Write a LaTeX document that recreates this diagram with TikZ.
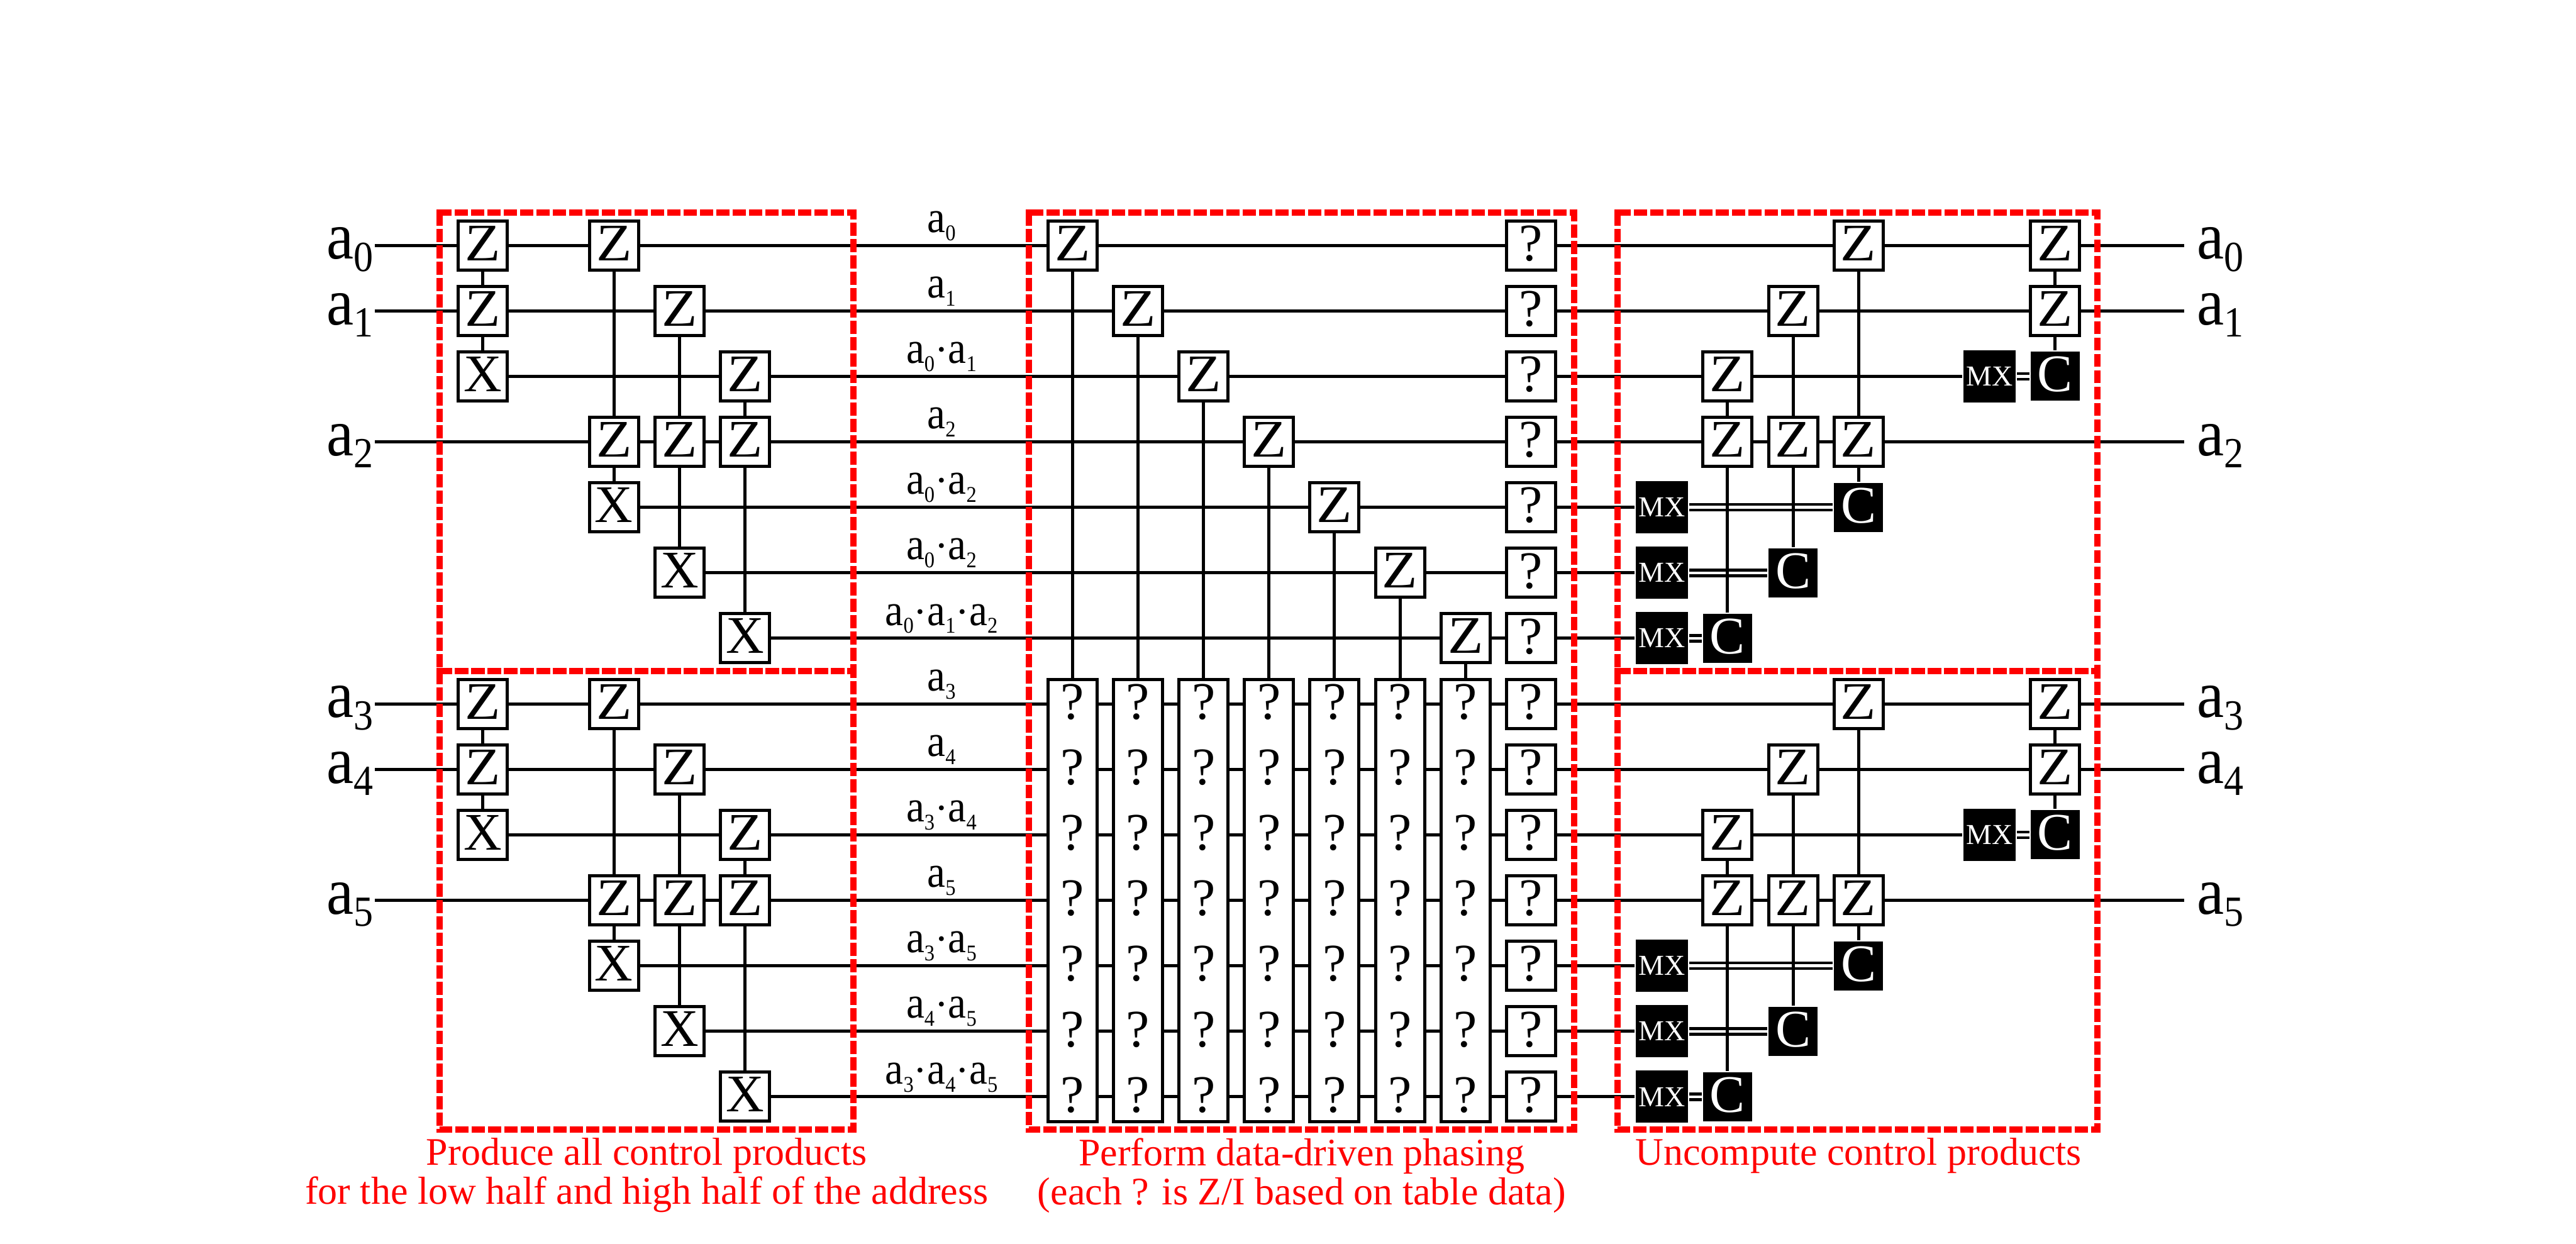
\documentclass[tikz,border=0pt]{standalone}
\usepackage{fontspec}
\setmainfont{Liberation Serif}
\usetikzlibrary{backgrounds}
\newcommand{\addr}[2][0.5]{\scalebox{1}[1.1]{a\raisebox{-0.18em}{\scalebox{#1}{#2}}}}
\newcommand{\dotp}{\textperiodcentered}
\newcommand{\zee}{\scalebox{1.1}[1]{Z}}
\begin{document}
\begin{tikzpicture}[x=10.415pt,y=-10.415pt]
	\tikzstyle{gate}  = [rectangle,draw,fill=white,line width=0.5pt,inner sep=0pt,minimum size=7.8pt,text depth=0.7pt,font=\fontsize{8.4}{8.4}\selectfont]
	\tikzstyle{tall}  = [rectangle,draw,fill=white,line width=0.5pt,inner sep=0pt,minimum width=7.8pt,minimum height=70.3pt]
	\tikzstyle{qmark} = [inner sep=0pt,text depth=0.7pt,font=\fontsize{8.4}{8.4}\selectfont]
	\tikzstyle{meas}  = [rectangle,fill=black,text=white,inner sep=0pt,minimum size=8.3pt,font=\fontsize{4.6}{4.6}\selectfont]
	\tikzstyle{ctrl}  = [rectangle,fill=black,text=white,inner sep=0pt,minimum size=7.8pt,text depth=0.65pt,font=\fontsize{8.4}{8.4}\selectfont]
	\tikzstyle{wire}  = [line width=0.5pt]
	\tikzstyle{cwire} = [line width=0.45pt,double=white,double distance=0.45pt]
	\tikzstyle{biglbl}= [inner sep=0pt,font=\fontsize{9.7}{9.7}\selectfont]
	\tikzstyle{lbl}   = [inner sep=0pt,anchor=base,font=\fontsize{6.5}{6.5}\selectfont]
	\tikzstyle{redbox}= [draw=red,line width=1pt,dash pattern=on 2.08pt off 0.52pt]
	\tikzstyle{note}  = [inner sep=0pt,anchor=north,align=center,text=red,font=\fontsize{6.2}{6.2}\selectfont]

	\useasboundingbox (-7.374,-3.745) rectangle (31.954,15.247);

	% low half, then high half
	\foreach \blk/\ofs/\fa/\fb/\fc/\fd in {u/0/0/1/2/0,v/7/3/4/5/4}{
	\begin{scope}[shift={(0,\ofs)}]
		\foreach \w/\n in {0/\fa,1/\fb,3/\fc}{
			\coordinate (\blk in\w) at (-1.65,\w);
			\coordinate (\blk out\w) at (25.97,\w);
			\node[biglbl,anchor=base east] (\blk la\w) at (-1.66,\w+0.21) {\addr[0.64]{\n}};
			\node[biglbl,anchor=base west] (\blk lb\w) at (26.15,\w+0.21) {\addr[0.64]{\n}};
		}

		\foreach \c/\w in {0/0,0/1,2/0,2/3,3/1,3/3,4/2,4/3}{
			\node[gate] (\blk\c-\w) at (\c,\w) {\zee};
		}
		\foreach \c/\w in {0/2,2/4,3/5,4/6}{
			\node[gate] (\blk\c-\w) at (\c,\w) {X};
		}

		\node[lbl] (\blk w0) at (7,-0.2) {\addr{\fa}};
		\node[lbl] (\blk w1) at (7,0.8) {\addr{\fb}};
		\node[lbl] (\blk w2) at (7,1.8) {\addr{\fa}\dotp\addr{\fb}};
		\node[lbl] (\blk w3) at (7,2.8) {\addr{\fc}};
		\node[lbl] (\blk w4) at (7,3.8) {\addr{\fa}\dotp\addr{\fc}};
		\node[lbl] (\blk w5) at (7,4.8) {\addr{\fd}\dotp\addr{\fc}};
		\node[lbl] (\blk w6) at (7,5.8) {\addr{\fa}\dotp\addr{\fb}\dotp\addr{\fc}};

		\foreach \c/\w in {21/0,24/0,20/1,24/1,19/2,19/3,20/3,21/3}{
			\node[gate] (\blk\c-\w) at (\c,\w) {\zee};
		}
		\foreach \c/\w in {23/2,18/4,18/5,18/6}{
			\node[meas] (\blk\c-\w) at (\c,\w) {MX};
		}
		\foreach \c/\w in {24/2,21/4,20/5,19/6}{
			\node[ctrl] (\blk\c-\w) at (\c,\w) {C};
		}

		\begin{pgfonlayer}{background}
			\foreach \w in {0,1,3}{
				\draw[wire] (\blk in\w) -- (\blk out\w);
			}
			\draw[wire] (\blk0-2) -- (\blk23-2);
			\draw[wire] (\blk2-4) -- (\blk18-4);
			\draw[wire] (\blk3-5) -- (\blk18-5);
			\draw[wire] (\blk4-6) -- (\blk18-6);

			\draw[cwire] (\blk23-2) -- (\blk24-2);
			\draw[cwire] (\blk18-4) -- (\blk21-4);
			\draw[cwire] (\blk18-5) -- (\blk20-5);
			\draw[cwire] (\blk18-6) -- (\blk19-6);

			\draw[wire] (\blk0-0) -- (\blk0-2);
			\draw[wire] (\blk2-0) -- (\blk2-4);
			\draw[wire] (\blk3-1) -- (\blk3-5);
			\draw[wire] (\blk4-2) -- (\blk4-6);
			\draw[wire] (\blk19-2) -- (\blk19-6);
			\draw[wire] (\blk20-1) -- (\blk20-5);
			\draw[wire] (\blk21-0) -- (\blk21-4);
			\draw[wire] (\blk24-0) -- (\blk24-2);
		\end{pgfonlayer}
	\end{scope}
	}

	% phasing columns
	\foreach \c/\k in {9/0,10/1,11/2,12/3,13/4,14/5,15/6}{
		\node[gate] (z\k) at (\c,\k) {\zee};
		\node[tall] (t\k) at (\c,10) {};
		\foreach \w in {7,...,13}{
			\node[qmark] (q\k-\w) at (\c,\w) {?};
		}
		\begin{pgfonlayer}{background}
			\draw[wire] (z\k) -- (t\k);
		\end{pgfonlayer}
	}
	\foreach \w in {0,...,13}{
		\node[gate] (c\w) at (16,\w) {?};
	}

	\foreach \xa/\ya/\xb/\yb in {-0.6625/-0.5/5.66/6.5,-0.6625/6.5/5.66/13.5,8.33/-0.5/16.66/13.5,17.32/-0.5/24.65/6.5,17.32/6.5/24.65/13.5}{
		\draw[redbox] (\xa,\ya) rectangle (\xb,\yb);
		\fill[red] (\xa,\ya) ++(-0.5pt,-0.5pt) rectangle ++(1pt,1pt);
	}

	\node[note] (n1) at (2.5,13.61) {Produce all control products\\for the low half and high half of the address};
	\node[note] (n2) at (12.5,13.61) {Perform data-driven phasing\\(each ? is Z/I based on table data)};
	\node[note] (n3) at (21,13.61) {Uncompute control products};
\end{tikzpicture}
\end{document}
